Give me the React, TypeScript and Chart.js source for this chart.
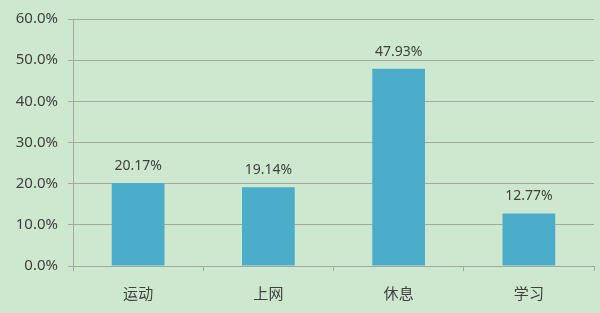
import React, { useEffect, useRef } from "react";
import { Chart, registerables } from "chart.js";

Chart.register(...registerables);

const categories = ["运动", "上网", "休息", "学习"];
const shares = [20.17, 19.14, 47.93, 12.77];
const yTicks = [0, 10, 20, 30, 40, 50, 60];

const FONT = '"Noto Sans", "Noto Sans CJK SC", sans-serif';
const TEXT = "#404040";
const GRID = "#a3a8a3";

const valueLabels = {
  id: "valueLabels",
  afterDatasetsDraw(chart: any) {
    const { ctx } = chart;
    const meta = chart.getDatasetMeta(0);
    ctx.save();
    ctx.font = `14px ${FONT}`;
    ctx.fillStyle = TEXT;
    ctx.textAlign = "center";
    ctx.textBaseline = "middle";
    meta.data.forEach((bar: any, i: number) => {
      ctx.fillText(`${shares[i].toFixed(2)}%`, bar.x, bar.y - 17);
    });
    ctx.restore();
  },
};

export default function App() {
  const ref = useRef<HTMLCanvasElement>(null);

  useEffect(() => {
    document.body.style.margin = "0";
    const chart = new Chart(ref.current!, {
      type: "bar",
      data: {
        labels: categories,
        datasets: [
          {
            data: shares,
            backgroundColor: "#4badc9",
            borderWidth: 0,
            barPercentage: 0.81,
            categoryPercentage: 0.5,
          },
        ],
      },
      options: {
        animation: false,
        responsive: false,
        layout: { padding: { top: 10, right: 6, left: 0, bottom: 0 } },
        plugins: { legend: { display: false }, tooltip: { enabled: false } },
        scales: {
          x: {
            grid: {
              drawOnChartArea: false,
              drawTicks: true,
              tickLength: 5,
              color: GRID,
              offset: true,
            },
            border: { color: GRID, width: 1 },
            ticks: {
              color: TEXT,
              font: { family: FONT, size: 15 },
              padding: 15,
            },
            afterFit(scale: any) {
              scale.height = 47;
            },
          },
          y: {
            min: 0,
            max: 60,
            afterBuildTicks(scale: any) {
              scale.ticks = yTicks.map((v) => ({ value: v }));
            },
            grid: { color: GRID, tickLength: 5 },
            border: { color: GRID, width: 1 },
            ticks: {
              color: TEXT,
              font: { family: FONT, size: 15 },
              padding: 10,
              callback: (v: any) => `${Number(v).toFixed(1)}%`,
            },
            afterFit(scale: any) {
              scale.width = 73;
            },
          },
        },
      },
      plugins: [valueLabels],
    });
    return () => chart.destroy();
  }, []);

  return (
    <div style={{ width: 600, height: 313, background: "#cee8cf" }}>
      <canvas ref={ref} width={600} height={313} />
    </div>
  );
}
